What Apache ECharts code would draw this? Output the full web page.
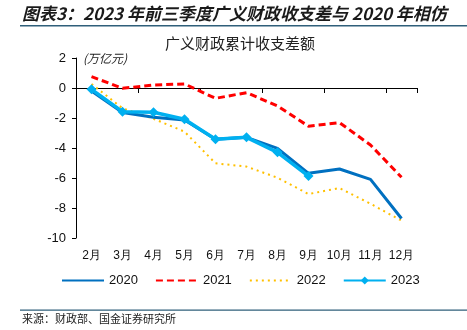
<!DOCTYPE html>
<html>
<head>
<meta charset="utf-8">
<script src="https://cdn.jsdelivr.net/npm/echarts@6/dist/echarts.min.js"></script>
<style>
  html, body { margin: 0; padding: 0; background: #fff; }
  #chart { width: 467px; height: 330px; }
</style>
</head>
<body>
<div id="chart"></div>
<script>
// 广义财政累计收支差额（万亿元）
const months = ['2月', '3月', '4月', '5月', '6月', '7月', '8月', '9月', '10月', '11月', '12月'];
const y2020 = [-0.2, -1.64, -1.95, -2.13, -3.42, -3.29, -4.02, -5.69, -5.4, -6.09, -8.7];
const y2021 = [0.76, -0.02, 0.2, 0.27, -0.69, -0.31, -1.2, -2.55, -2.31, -3.8, -5.95];
const y2022 = [0.27, -1.35, -2.05, -2.91, -5.02, -5.24, -5.98, -7.07, -6.67, -7.72, -8.84];
const y2023 = [-0.09, -1.58, -1.62, -2.08, -3.42, -3.29, -4.29, -5.87];
const yTicks = { min: -10, max: 2, interval: 2 };

const cjk = '"Noto Sans CJK SC", sans-serif';
const latin = '"Liberation Sans", Arial, sans-serif';

const chart = echarts.init(document.getElementById('chart'));
chart.setOption({
  animation: false,
  backgroundColor: '#fff',
  grid: { left: 76, right: 50, top: 58, bottom: 92, containLabel: false },
  graphic: [
    { type: 'text', left: 22, top: 5,
      style: { text: '图表3：2023 年前三季度广义财政收支差与 2020 年相仿', font: 'italic bold 17px ' + cjk, fill: '#1a1a1a' } },
    { type: 'rect', shape: { x: 20, y: 25, width: 447, height: 1.5 }, style: { fill: '#2f5f7a' } },
    { type: 'text', left: 165, top: 36,
      style: { text: '广义财政累计收支差额', font: '15px ' + cjk, fill: '#222' } },
    { type: 'text', left: 83, top: 52,
      style: { text: '(万亿元)', font: 'italic 12px ' + cjk, fill: '#222' } },
    { type: 'rect', shape: { x: 20, y: 309.5, width: 447, height: 1.2 }, style: { fill: '#2f5f7a' } },
    { type: 'text', left: 22, top: 313,
      style: { text: '来源：财政部、国金证券研究所', font: '11px ' + cjk, fill: '#222' } }
  ],
  legend: {
    left: 56, top: 269,
    itemWidth: 42, itemHeight: 10, itemGap: 17,
    textStyle: { fontFamily: latin, fontSize: 13, color: '#111' },
    data: [
      { name: '2020', itemStyle: { opacity: 0 } },
      { name: '2021', itemStyle: { opacity: 0 } },
      { name: '2022', itemStyle: { opacity: 0 } },
      { name: '2023' }
    ]
  },
  xAxis: [
    {
      type: 'category', data: months, boundaryGap: true,
      axisLine: { show: false, onZero: false },
      axisTick: { show: false },
      axisLabel: { fontFamily: latin, fontSize: 12, color: '#111', margin: 12, interval: 0 }
    },
    {
      type: 'category', data: months, boundaryGap: true, position: 'bottom',
      axisLine: { show: true, onZero: true, lineStyle: { color: '#000', width: 1 } },
      axisTick: { show: true, length: 5, inside: false, lineStyle: { color: '#000' } },
      axisLabel: { show: false }
    }
  ],
  yAxis: {
    type: 'value', min: yTicks.min, max: yTicks.max, interval: yTicks.interval,
    axisLine: { show: true, lineStyle: { color: '#000', width: 1 } },
    axisTick: { show: true, length: 4, lineStyle: { color: '#000' } },
    axisLabel: { fontFamily: latin, fontSize: 13, color: '#111', margin: 10 },
    splitLine: { show: false }
  },
  series: [
    { name: '2020', type: 'line', data: y2020, symbol: 'none', z: 3,
      lineStyle: { color: '#0070C0', width: 3 }, itemStyle: { color: '#0070C0' } },
    { name: '2021', type: 'line', data: y2021, symbol: 'none', z: 2,
      lineStyle: { color: '#FF0000', width: 3, type: [7, 4] }, itemStyle: { color: '#FF0000' } },
    { name: '2022', type: 'line', data: y2022, symbol: 'none', z: 2,
      lineStyle: { color: '#FFC000', width: 2, type: [2, 4] }, itemStyle: { color: '#FFC000' } },
    { name: '2023', type: 'line', data: y2023, symbol: 'diamond', symbolSize: 10, z: 4,
      lineStyle: { color: '#00B0F0', width: 3.5 }, itemStyle: { color: '#00B0F0' } }
  ]
});
</script>
</body>
</html>
